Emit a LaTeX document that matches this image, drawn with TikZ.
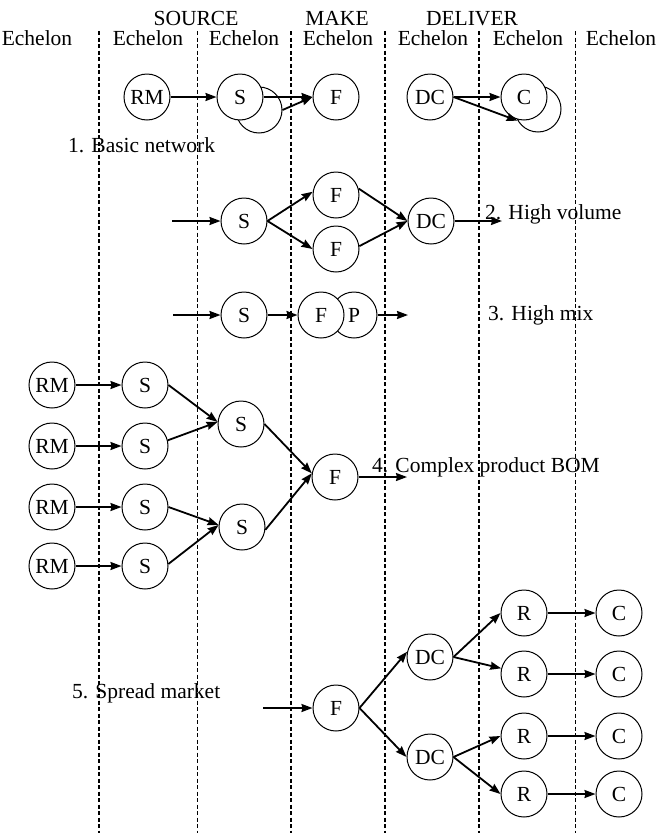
\documentclass[tikz,border=0pt]{standalone}
\usepackage{fontspec}
\setmainfont{Liberation Serif}
\usetikzlibrary{arrows.meta}
\begin{document}
\begin{tikzpicture}[x=1pt,y=-1pt,
  nd/.style={circle,draw,line width=1pt,fill=white,minimum size=46pt,inner sep=0pt,font=\fontsize{21.5}{24}\selectfont},
  shadowc/.style={circle,draw,line width=1pt,minimum size=46pt,inner sep=0pt},
  lbl/.style={inner sep=0pt,anchor=base,font=\fontsize{21.5}{24}\selectfont},
  lblw/.style={inner sep=0pt,anchor=base west,font=\fontsize{21.5}{24}\selectfont},
  arr/.style={line width=1.8pt,-{Stealth[length=11pt,width=8pt,inset=1pt]}},
  divline/.style={line width=1.3pt,dash pattern=on 4pt off 2.5pt}]
\useasboundingbox (0,0) rectangle (657,833);
% dividers
\foreach \i/\x in {1/99,2/197.5,3/291,4/385,5/479,6/575.5}{
  \coordinate (dt\i) at (\x,31);
  \coordinate (db\i) at (\x,833);
  \draw[divline] (dt\i) -- (db\i);
}
% header
\node[lbl] (hsrc) at (196,25) {SOURCE};
\node[lbl] (hmake) at (337,25) {MAKE};
\node[lbl] (hdel) at (472,25) {DELIVER};
\foreach \i/\x in {1/37,2/148,3/244,4/338,5/433,6/528,7/621}{
  \node[lbl] (ech\i) at (\x,45) {Echelon};
}
% ---- 1. Basic network
\node[shadowc] (Sas) at (259,110) {};
\node[shadowc] (Cas) at (538,109) {};
\node[nd] (RMa) at (147,97) {RM};
\node[nd] (Sa) at (240,97) {S};
\node[nd] (Fa) at (336,97) {F};
\node[nd] (DCa) at (430,97) {DC};
\node[nd] (Ca) at (524,97) {C};
\draw[arr] (RMa) -- (Sa);
\draw[arr] (Sa.east) -- (Fa.west);
\draw[arr] (Sas.east) -- (Fa.west);
\draw[arr] (DCa.east) -- (Ca.west);
\draw[arr] (DCa.east) -- (Cas.210);
\node[lblw] (t1) at (68,152) {1. Basic network};
% ---- 2. High volume
\coordinate (in2) at (172,221);
\coordinate (out2) at (502,221);
\node[nd] (Sb) at (244,221) {S};
\node[nd] (Fbt) at (336,195) {F};
\node[nd] (Fbb) at (336,249) {F};
\node[nd] (DCb) at (431,221) {DC};
\draw[arr] (in2) -- (Sb.west);
\draw[arr] (Sb.east) -- (Fbt.172);
\draw[arr] (Sb.east) -- (Fbb.west);
\draw[arr] (Fbt.16) -- (DCb.west);
\draw[arr] (Fbb.7) -- (DCb.west);
\draw[arr] (DCb.east) -- (out2);
\node[lblw] (t2) at (485,219) {2. High volume};
% ---- 3. High mix
\coordinate (in3) at (173,315);
\coordinate (out3) at (408,315);
\node[nd] (Sc) at (244,315) {S};
\node[nd] (Pc) at (354,315) {P};
\node[nd] (Fc) at (321,315) {F};
\draw[arr] (in3) -- (Sc.west);
\draw[arr] (Sc.east) -- (Fc.west);
\draw[arr] (Pc.east) -- (out3);
\node[lblw] (t3) at (488,320) {3. High mix};
% ---- 4. Complex product BOM
\foreach \i/\y in {1/385,2/446,3/507,4/566}{
  \node[nd] (RMd\i) at (52,\y) {RM};
  \node[nd] (Sd\i) at (145,\y) {S};
  \draw[arr] (RMd\i) -- (Sd\i);
}
\node[nd] (Sdu) at (241,424) {S};
\node[nd] (Sdl) at (242,527) {S};
\node[nd] (Fd) at (335,477) {F};
\coordinate (out4) at (407,477);
\draw[arr] (Sd1.east) -- (Sdu.175);
\draw[arr] (Sd2.14) -- (Sdu.175);
\draw[arr] (Sd3.east) -- (Sdl.175);
\draw[arr] (Sd4.5) -- (Sdl.175);
\draw[arr] (Sdu.east) -- (Fd.171);
\draw[arr] (Sdl.-7) -- (Fd.171);
\draw[arr] (Fd.east) -- (out4);
\node[lblw] (t4) at (372,472) {4. Complex product BOM};
% ---- 5. Spread market
\coordinate (in5) at (263,708);
\node[nd] (Fe) at (336,708) {F};
\node[nd] (DCet) at (430,657) {DC};
\node[nd] (DCeb) at (430,757) {DC};
\foreach \i/\y in {1/613,2/674,3/736,4/794}{
  \node[nd] (Re\i) at (524,\y) {R};
  \node[nd] (Ce\i) at (619,\y) {C};
  \draw[arr] (Re\i) -- (Ce\i);
}
\draw[arr] (in5) -- (Fe.west);
\draw[arr] (Fe.east) -- (DCet.167);
\draw[arr] (Fe.east) -- (DCeb.west);
\draw[arr] (DCet.east) -- (Re1.west);
\draw[arr] (DCet.east) -- (Re2.166);
\draw[arr] (DCeb.east) -- (Re3.west);
\draw[arr] (DCeb.east) -- (Re4.west);
\node[lblw] (t5) at (72,698) {5. Spread market};
\end{tikzpicture}
\end{document}
